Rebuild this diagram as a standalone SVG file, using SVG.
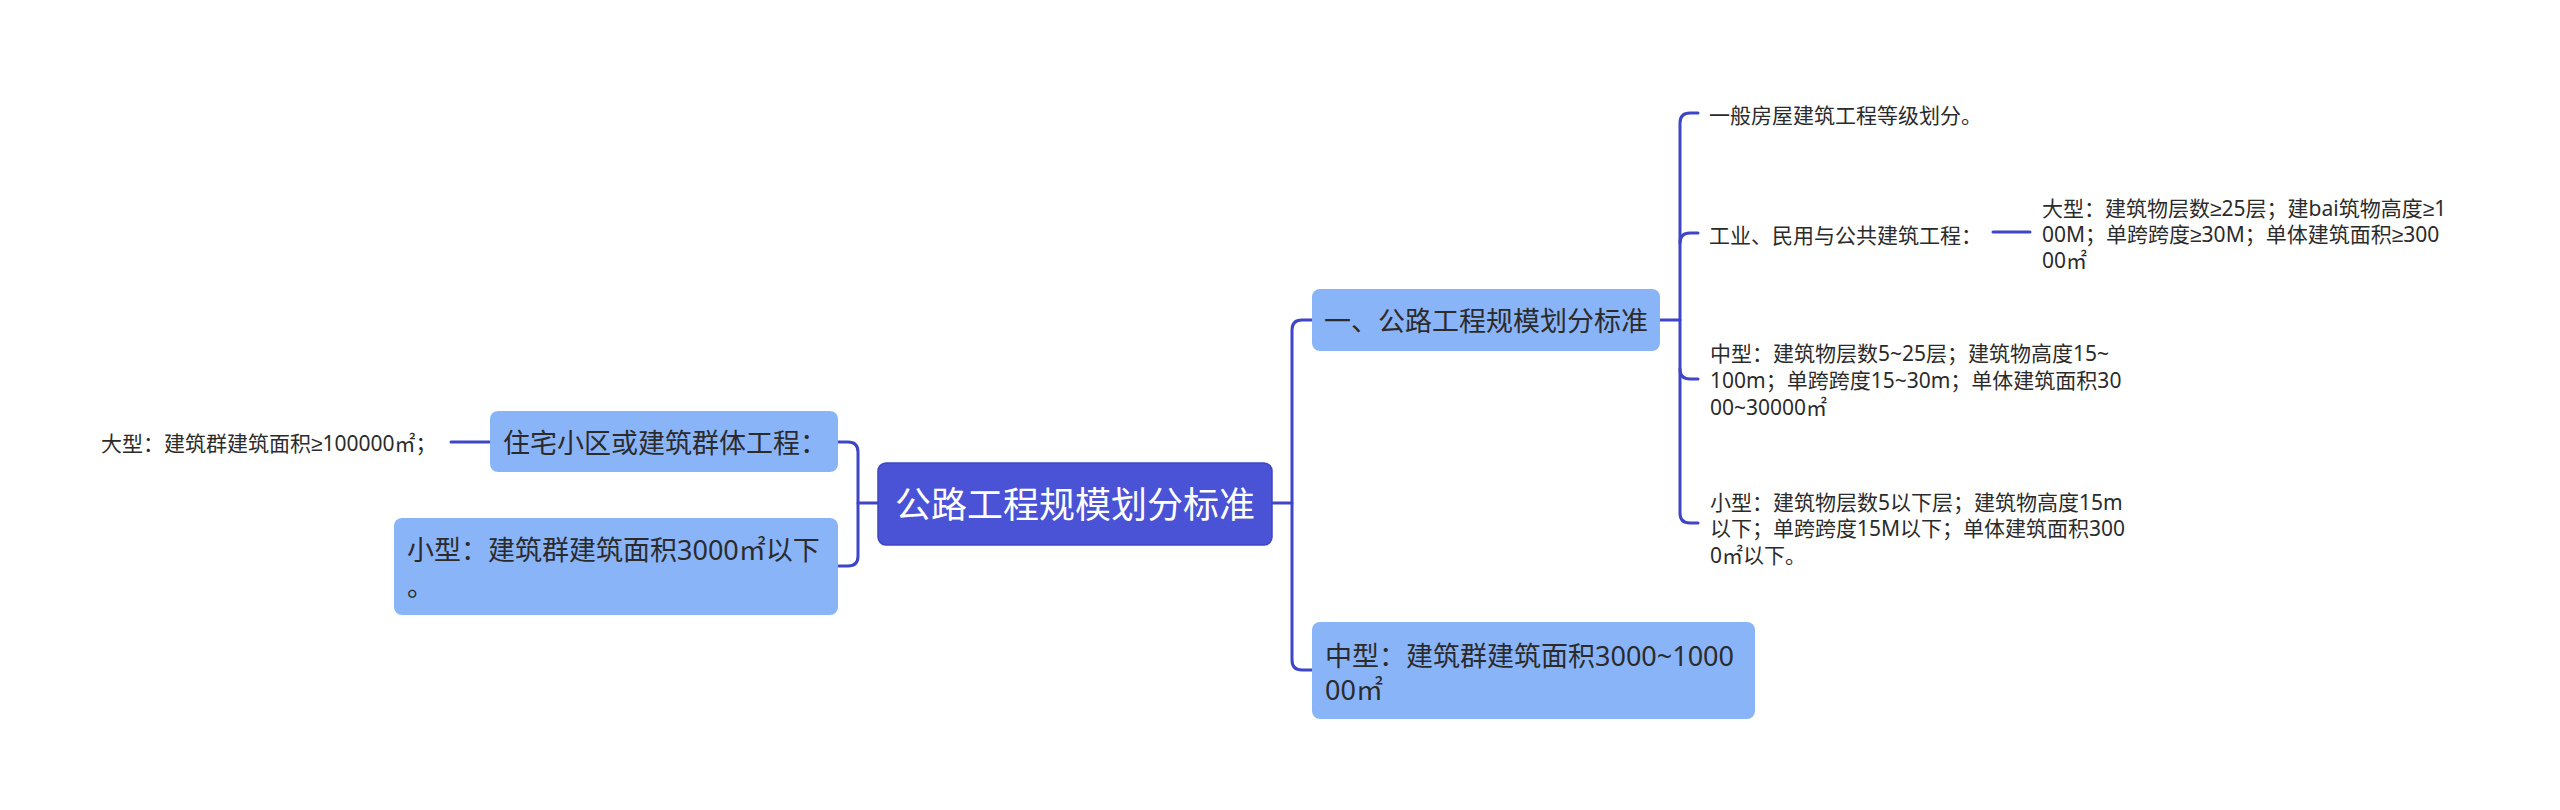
<svg xmlns="http://www.w3.org/2000/svg" width="2560" height="810" viewBox="0 0 2560 810">
<style>
text{font-family:"Noto Sans","Noto Sans CJK SC",sans-serif;dominant-baseline:central;fill:#2b2b2b}
.ge{font-family:"Liberation Sans","DejaVu Sans",sans-serif}
.root{fill:#4a52d6;stroke:#3e45c4;stroke-width:1.5}
.l1{fill:#8ab4f8}
.t36{font-size:36px;fill:#ffffff}
.t26{font-size:27px}
.t20{font-size:21px}
.c{fill:none;stroke:#3e45c6;stroke-width:3;stroke-linecap:round}
</style>
<rect width="2560" height="810" fill="#ffffff"/>
<g id="connectors">
<path class="c" d="M858,503 H878"/>
<path class="c" d="M838,442 H848 Q858,442 858,452 V556 Q858,566 848,566 H838"/>
<path class="c" d="M451,442 H490"/>
<path class="c" d="M1272,503 H1292"/>
<path class="c" d="M1312,320 H1302 Q1292,320 1292,330 V660 Q1292,670 1302,670 H1312"/>
<path class="c" d="M1660,320 H1680"/>
<path class="c" d="M1698,113 H1690 Q1680,113 1680,123 V513 Q1680,523 1690,523 H1698"/>
<path class="c" d="M1698,233 H1690 Q1680,233 1680,243"/>
<path class="c" d="M1698,379 H1690 Q1680,379 1680,369"/>
<path class="c" d="M1993,232 H2030"/>
</g>
<g id="root">
<rect class="root" x="878" y="463" width="394" height="82" rx="8"/>
<text class="t36" x="1075" y="504" text-anchor="middle">公路工程规模划分标准</text>
</g>
<g id="n-zhuzhai">
<rect class="l1" x="490" y="411" width="348" height="61" rx="8"/>
<text class="t26" x="503" y="442">住宅小区或建筑群体工程：</text>
</g>
<g id="n-zhuzhai-large">
<text class="t20" x="101" y="443">大型：建筑群建筑面积<tspan class="ge">≥</tspan>100000㎡；</text>
</g>
<g id="n-small-group">
<rect class="l1" x="394" y="518" width="444" height="97" rx="8"/>
<text class="t26" x="407" y="549">小型：建筑群建筑面积3000㎡以下</text>
<text class="t26" x="407" y="585">。</text>
</g>
<g id="n-gonglu">
<rect class="l1" x="1312" y="289" width="348" height="62" rx="8"/>
<text class="t26" x="1324" y="320">一、公路工程规模划分标准</text>
</g>
<g id="n-mid-group">
<rect class="l1" x="1312" y="622" width="443" height="97" rx="8"/>
<text class="t26" x="1325" y="655">中型：建筑群建筑面积3000~1000</text>
<text class="t26" x="1325" y="689">00㎡</text>
</g>
<g id="n-general">
<text class="t20" x="1709" y="115">一般房屋建筑工程等级划分。</text>
</g>
<g id="n-industrial">
<text class="t20" x="1709" y="235">工业、民用与公共建筑工程：</text>
</g>
<g id="n-large">
<text class="t20" x="2042" y="208">大型：建筑物层数<tspan class="ge">≥</tspan>25层；建bai筑物高度<tspan class="ge">≥</tspan>1</text>
<text class="t20" x="2042" y="234">00M；单跨跨度<tspan class="ge">≥</tspan>30M；单体建筑面积<tspan class="ge">≥</tspan>300</text>
<text class="t20" x="2042" y="260">00㎡</text>
</g>
<g id="n-medium">
<text class="t20" x="1710" y="353">中型：建筑物层数5~25层；建筑物高度15~</text>
<text class="t20" x="1710" y="380">100m；单跨跨度15~30m；单体建筑面积30</text>
<text class="t20" x="1710" y="407">00~30000㎡</text>
</g>
<g id="n-small">
<text class="t20" x="1710" y="502">小型：建筑物层数5以下层；建筑物高度15m</text>
<text class="t20" x="1710" y="528">以下；单跨跨度15M以下；单体建筑面积300</text>
<text class="t20" x="1710" y="555">0㎡以下。</text>
</g>
</svg>
